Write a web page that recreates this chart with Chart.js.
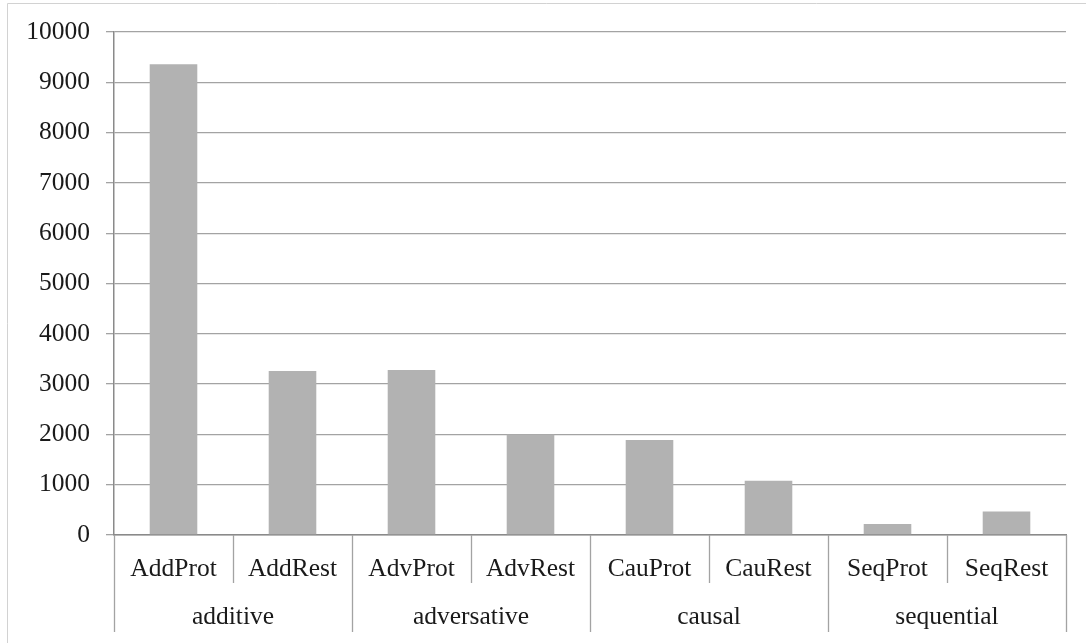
<!DOCTYPE html>
<html>
<head>
<meta charset="utf-8">
<script src="https://cdn.jsdelivr.net/npm/chart.js@4/dist/chart.umd.min.js"></script>
<style>
    body { margin: 0; background: #ffffff; }
    canvas { display: block; }
</style>
</head>
<body>
<canvas id="myChart" width="1086" height="643"></canvas>
<script>
// counts per connective type, split into Prot / Rest
var subLabels = ["AddProt", "AddRest", "AdvProt", "AdvRest", "CauProt", "CauRest", "SeqProt", "SeqRest"];
var groupLabels = ["additive", "adversative", "causal", "sequential"];
var groupSizes = [2, 2, 2, 2];
var counts = [9360, 3260, 3280, 2000, 1890, 1080, 220, 465];
var yTicks = [0, 1000, 2000, 3000, 4000, 5000, 6000, 7000, 8000, 9000, 10000];

var fontFamily = "'Liberation Serif', 'Times New Roman', serif";
var fontSize = 25.5;
var textColor = "#1a1a1a";

// frame, category dividers and the outer row of group labels
var groupAxisPlugin = {
    id: "groupAxis",
    beforeDraw: function (chart) {
        var ctx = chart.ctx;
        ctx.save();
        ctx.strokeStyle = "#d2d2d2";
        ctx.lineWidth = 1;
        ctx.beginPath();
        ctx.moveTo(7.5, 643);
        ctx.lineTo(7.5, 3.5);
        ctx.lineTo(1086, 3.5);
        ctx.stroke();
        ctx.restore();
    },
    afterDraw: function (chart) {
        var ctx = chart.ctx;
        var xs = chart.scales.x;
        var area = chart.chartArea;
        var step = (area.right - area.left) / subLabels.length;
        ctx.save();
        ctx.strokeStyle = "#a3a3a3";
        ctx.lineWidth = 1.3;

        // boundaries between sub categories, longer ones between groups
        var groupEnds = [0];
        var sum = 0;
        for (i in groupSizes) {
            sum += groupSizes[i];
            groupEnds.push(sum);
        }
        for (var k = 0; k <= subLabels.length; k++) {
            var x = Math.round(xs.getPixelForValue(k) - step / 2) + 0.5;
            var bottom = groupEnds.includes(k) ? area.bottom + 97 : area.bottom + 48;
            ctx.beginPath();
            ctx.moveTo(x, area.bottom);
            ctx.lineTo(x, bottom);
            ctx.stroke();
        }

        ctx.fillStyle = textColor;
        ctx.font = fontSize + "px " + fontFamily;
        ctx.textAlign = "center";
        ctx.textBaseline = "middle";
        for (var g = 0; g < groupLabels.length; g++) {
            var first = groupEnds[g];
            var last = groupEnds[g + 1] - 1;
            var cx = (xs.getPixelForValue(first) + xs.getPixelForValue(last)) / 2;
            ctx.fillText(groupLabels[g], cx, area.bottom + 82);
        }
        ctx.restore();
    }
};

var chart = new Chart("myChart", {
    type: "bar",
    data: {
        labels: subLabels,
        datasets: [{
            data: counts,
            backgroundColor: "#b2b2b2",
            borderWidth: 0,
            barPercentage: 0.4,
            categoryPercentage: 1.0
        }]
    },
    options: {
        responsive: false,
        animation: false,
        layout: { padding: { top: 32, right: 20, left: 0, bottom: 0 } },
        plugins: {
            legend: { display: false },
            tooltip: { enabled: false }
        },
        scales: {
            x: {
                grid: { display: false },
                border: { display: true, color: "#8a8a8a", width: 1.5 },
                ticks: {
                    color: textColor,
                    font: { family: fontFamily, size: fontSize },
                    padding: 11,
                    maxRotation: 0,
                    autoSkip: false
                },
                afterFit: function (scale) { scale.height = 108; }
            },
            y: {
                min: 0,
                max: 10000,
                afterBuildTicks: function (scale) {
                    scale.ticks = yTicks.map(function (v) { return { value: v }; });
                },
                grid: {
                    color: "#a3a3a3",
                    lineWidth: 1.3,
                    tickLength: 8
                },
                border: { display: true, color: "#8a8a8a", width: 1.5 },
                ticks: {
                    color: textColor,
                    font: { family: fontFamily, size: fontSize },
                    padding: 16,
                    callback: function (value) { return String(value); }
                },
                afterFit: function (scale) { scale.width = 114; }
            }
        }
    },
    plugins: [groupAxisPlugin]
});
</script>
</body>
</html>
